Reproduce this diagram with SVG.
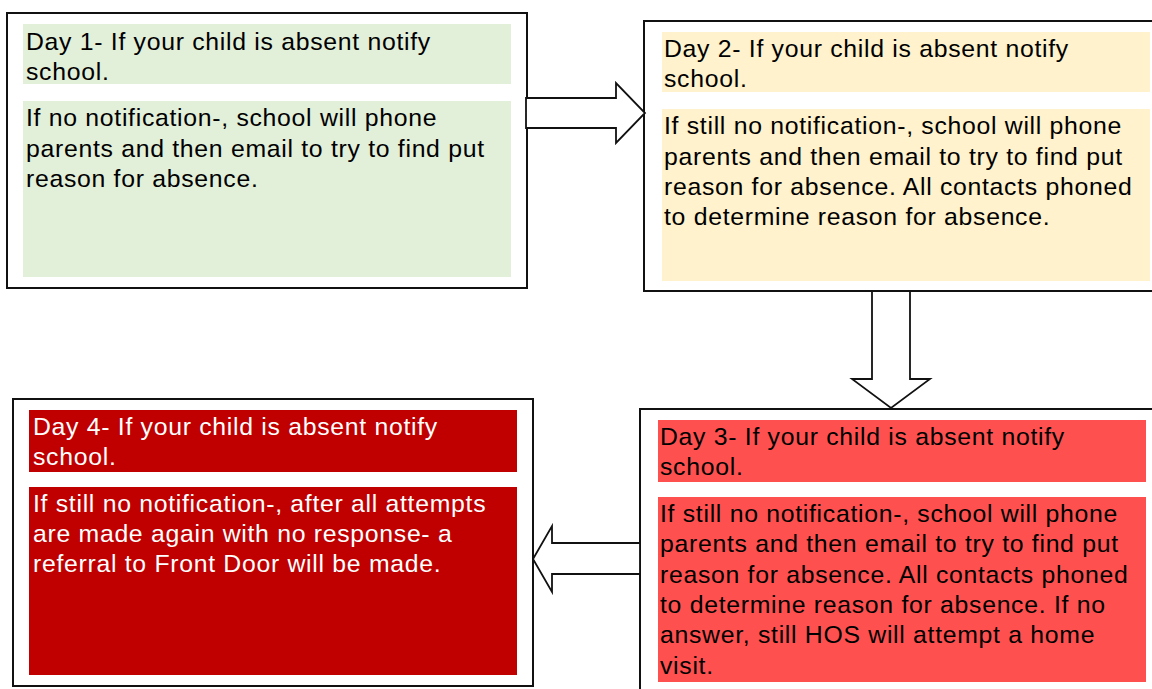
<svg xmlns="http://www.w3.org/2000/svg" width="1152" height="689" viewBox="0 0 1152 689">
<style>
.frame{fill:#fff;stroke:#111;stroke-width:2}
.arrow{fill:#fff;stroke:#111;stroke-width:1.8;stroke-linejoin:miter}
text{font-family:"Liberation Sans",Arial,sans-serif;font-size:24.8px;letter-spacing:0.7px}
.dark{fill:#000}
.light{fill:#fff}
.g{fill:#E2EFD9}
.y{fill:#FFF2CC}
.r{fill:#FF5050}
.dr{fill:#C00000}
</style>
<rect width="1152" height="689" fill="#fff"/>
<g id="day1">
<rect class="frame" x="7" y="13" width="520" height="275"/>
<rect class="g" x="23" y="24" width="488" height="60"/>
<rect class="g" x="23" y="101" width="488" height="176"/>
<text class="dark" x="26" y="50">Day 1- If your child is absent notify</text>
<text class="dark" x="26" y="80">school.</text>
<text class="dark" x="26" y="126">If no notification-, school will phone</text>
<text class="dark" x="26" y="157">parents and then email to try to find put</text>
<text class="dark" x="26" y="187">reason for absence.</text>
</g>
<g id="day2">
<rect class="frame" x="644" y="21" width="530" height="270"/>
<rect class="y" x="662" y="32" width="488" height="60"/>
<rect class="y" x="662" y="109" width="488" height="172"/>
<text class="dark" x="664" y="57">Day 2- If your child is absent notify</text>
<text class="dark" x="664" y="87">school.</text>
<text class="dark" x="664" y="134">If still no notification-, school will phone</text>
<text class="dark" x="664" y="165">parents and then email to try to find put</text>
<text class="dark" x="664" y="195">reason for absence. All contacts phoned</text>
<text class="dark" x="664" y="225">to determine reason for absence.</text>
</g>
<g id="day3">
<rect class="frame" x="640" y="409" width="530" height="300"/>
<rect class="r" x="658" y="420" width="488" height="62"/>
<rect class="r" x="658" y="497" width="488" height="185"/>
<text class="dark" x="660" y="445">Day 3- If your child is absent notify</text>
<text class="dark" x="660" y="475">school.</text>
<text class="dark" x="660" y="522">If still no notification-, school will phone</text>
<text class="dark" x="660" y="552">parents and then email to try to find put</text>
<text class="dark" x="660" y="583">reason for absence. All contacts phoned</text>
<text class="dark" x="660" y="613">to determine reason for absence. If no</text>
<text class="dark" x="660" y="643">answer, still HOS will attempt a home</text>
<text class="dark" x="660" y="674">visit.</text>
</g>
<g id="day4">
<rect class="frame" x="13" y="399" width="520" height="287"/>
<rect class="dr" x="29" y="410" width="488" height="62"/>
<rect class="dr" x="29" y="487" width="488" height="188"/>
<text class="light" x="33" y="435">Day 4- If your child is absent notify</text>
<text class="light" x="33" y="465">school.</text>
<text class="light" x="33" y="512">If still no notification-, after all attempts</text>
<text class="light" x="33" y="542">are made again with no response- a</text>
<text class="light" x="33" y="572">referral to Front Door will be made.</text>
</g>
<g id="connectors">
<path class="arrow" d="M526,98 L616,98 L616,83 L645,113 L616,143 L616,128 L526,128 Z"/>
<path class="arrow" d="M872,291 L910,291 L910,379 L930,379 L891,408 L852,379 L872,379 Z"/>
<path class="arrow" d="M640,543 L552,543 L552,526 L533,559 L552,592 L552,574 L640,574 Z"/>
</g>
</svg>
